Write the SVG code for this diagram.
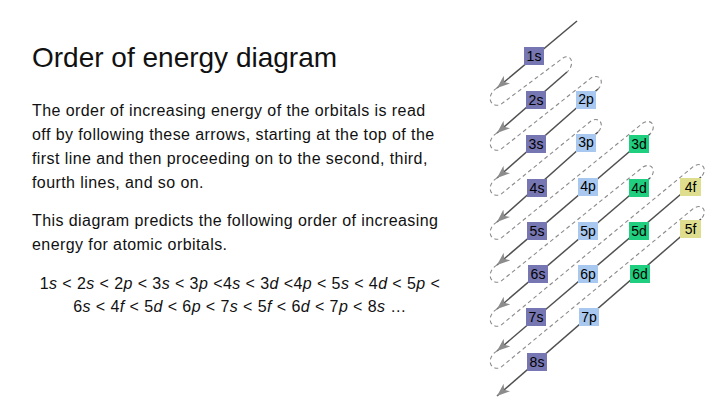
<svg xmlns="http://www.w3.org/2000/svg" width="720" height="405" viewBox="0 0 720 405">
<defs>
<style>
.t{font-family:"Liberation Sans",Arial,sans-serif;fill:#111;}
.title{font-size:28px;}
.body{font-size:16px;letter-spacing:0.42px;}
.i{font-style:italic;}
.solid{fill:none;stroke:#505050;stroke-width:1.5;marker-end:url(#ah);}
.dash{fill:none;stroke:#8a8a8a;stroke-width:1.1;stroke-dasharray:4 3;}
.box text{font-family:"Liberation Sans",Arial,sans-serif;font-size:14px;fill:#000;text-anchor:middle;}
.s rect{fill:#7676b2;}
.p rect{fill:#a9c8ef;}
.d rect{fill:#1fcf7f;}
.f rect{fill:#dede8e;}
</style>
<marker id="ah" markerUnits="userSpaceOnUse" markerWidth="14" markerHeight="12" refX="13" refY="5" orient="auto">
<path d="M0,0 L13,5 L0,10 L3.5,5 Z" fill="#8c8c8c"/>
</marker>
</defs>
<rect width="720" height="405" fill="#fff"/>

<g id="text">
<text class="t title" x="32" y="67">Order of energy diagram</text>
<text class="t body" x="32" y="116">The order of increasing energy of the orbitals is read</text>
<text class="t body" x="32" y="140">off by following these arrows, starting at the top of the</text>
<text class="t body" x="32" y="164">first line and then proceeding on to the second, third,</text>
<text class="t body" x="32" y="188">fourth lines, and so on.</text>
<text class="t body" x="32" y="226">This diagram predicts the following order of increasing</text>
<text class="t body" x="32" y="250">energy for atomic orbitals.</text>
<text class="t body" x="240" y="289" text-anchor="middle">1<tspan class="i">s</tspan> &lt; 2<tspan class="i">s</tspan> &lt; 2<tspan class="i">p</tspan> &lt; 3<tspan class="i">s</tspan> &lt; 3<tspan class="i">p</tspan> &lt;4<tspan class="i">s</tspan> &lt; 3<tspan class="i">d</tspan> &lt;4<tspan class="i">p</tspan> &lt; 5<tspan class="i">s</tspan> &lt; 4<tspan class="i">d</tspan> &lt; 5<tspan class="i">p</tspan> &lt;</text>
<text class="t body" x="240" y="312" text-anchor="middle">6<tspan class="i">s</tspan> &lt; 4<tspan class="i">f</tspan> &lt; 5<tspan class="i">d</tspan> &lt; 6<tspan class="i">p</tspan> &lt; 7<tspan class="i">s</tspan> &lt; 5<tspan class="i">f</tspan> &lt; 6<tspan class="i">d</tspan> &lt; 7<tspan class="i">p</tspan> &lt; 8<tspan class="i">s</tspan> …</text>
</g>

<g id="connectors">
<path class="dash" d="M497,88 C487,94 488,107 500,105 L563,58 C572,53 575,65 567,72"/>
<path class="dash" d="M497,133 C487,139 488,152 500,150 L591,78 C600,73 605,82 598,89"/>
<path class="dash" d="M497,178 C487,184 488,197 500,195 L591,121 C600,116 605,125 598,132"/>
<path class="dash" d="M497,222 C487,228 488,241 500,239 L643,123 C652,118 657,127 650,134"/>
<path class="dash" d="M497,265 C487,271 488,284 500,282 L643,167 C652,162 657,171 650,178"/>
<path class="dash" d="M497,309 C487,315 488,328 500,326 L694,166 C703,161 708,170 701,177"/>
<path class="dash" d="M497,351 C487,357 488,370 500,368 L694,208 C703,203 708,212 701,219"/>
<path class="solid" d="M577,21 L497,88"/>
<path class="solid" d="M567,72 L497,133"/>
<path class="solid" d="M598,89 L497,178"/>
<path class="solid" d="M598,132 L497,222"/>
<path class="solid" d="M650,134 L497,265"/>
<path class="solid" d="M650,178 L497,309"/>
<path class="solid" d="M701,177 L497,351"/>
<path class="solid" d="M701,219 L497,396"/>
</g>

<g id="n1s" class="box s"><rect x="524" y="47" width="20" height="18"/><text x="534" y="61">1s</text></g>
<g id="n2s" class="box s"><rect x="526" y="91" width="20" height="18"/><text x="536" y="105">2s</text></g>
<g id="n2p" class="box p"><rect x="576" y="91" width="20" height="18"/><text x="586" y="104">2p</text></g>
<g id="n3s" class="box s"><rect x="526" y="135" width="20" height="18"/><text x="536" y="149">3s</text></g>
<g id="n3p" class="box p"><rect x="576" y="134" width="20" height="18"/><text x="586" y="147">3p</text></g>
<g id="n3d" class="box d"><rect x="629" y="135" width="20" height="18"/><text x="639" y="149">3d</text></g>
<g id="n4s" class="box s"><rect x="527" y="179" width="20" height="18"/><text x="537" y="193">4s</text></g>
<g id="n4p" class="box p"><rect x="578" y="178" width="20" height="18"/><text x="588" y="191">4p</text></g>
<g id="n4d" class="box d"><rect x="629" y="179" width="20" height="18"/><text x="639" y="193">4d</text></g>
<g id="n4f" class="box f"><rect x="680" y="178" width="21" height="18"/><text x="690.5" y="192">4f</text></g>
<g id="n5s" class="box s"><rect x="527" y="222" width="20" height="18"/><text x="537" y="236">5s</text></g>
<g id="n5p" class="box p"><rect x="578" y="222" width="20" height="18"/><text x="588" y="236">5p</text></g>
<g id="n5d" class="box d"><rect x="629" y="222" width="20" height="18"/><text x="639" y="236">5d</text></g>
<g id="n5f" class="box f"><rect x="680" y="220" width="21" height="18"/><text x="690.5" y="234">5f</text></g>
<g id="n6s" class="box s"><rect x="528" y="265" width="20" height="18"/><text x="538" y="279">6s</text></g>
<g id="n6p" class="box p"><rect x="578" y="265" width="20" height="18"/><text x="588" y="279">6p</text></g>
<g id="n6d" class="box d"><rect x="630" y="265" width="20" height="18"/><text x="640" y="279">6d</text></g>
<g id="n7s" class="box s"><rect x="526" y="308" width="20" height="18"/><text x="536" y="322">7s</text></g>
<g id="n7p" class="box p"><rect x="579" y="308" width="20" height="18"/><text x="589" y="322">7p</text></g>
<g id="n8s" class="box s"><rect x="527" y="353" width="20" height="18"/><text x="537" y="367">8s</text></g>
</svg>
